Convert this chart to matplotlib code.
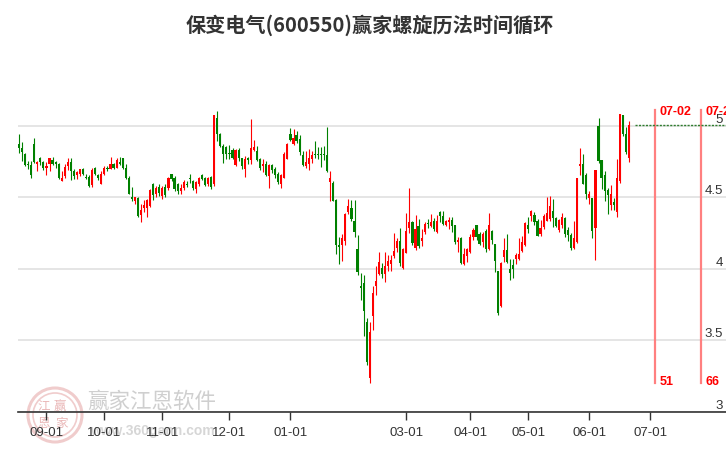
import matplotlib
matplotlib.use("Agg")
import matplotlib.pyplot as plt
from matplotlib.patches import Ellipse
import matplotlib.transforms as mtransforms

plt.rcParams['font.family'] = ['Liberation Sans', 'Noto Sans CJK SC', 'DejaVu Sans']

# ---------------- data (daily candles, trading-day order) ----------------
opens = [4.873, 4.845, 4.803, 4.734, 4.725, 4.873, 4.734, 4.771, 4.748, 4.706,
         4.734, 4.757, 4.748, 4.734, 4.614, 4.648, 4.718, 4.748, 4.683, 4.655,
         4.660, 4.700, 4.641, 4.641, 4.586, 4.706, 4.655, 4.595, 4.664, 4.706,
         4.695, 4.729, 4.706, 4.748, 4.771, 4.702, 4.636, 4.502, 4.475, 4.493,
         4.378, 4.424, 4.424, 4.440, 4.590, 4.521, 4.572, 4.509, 4.572, 4.567,
         4.660, 4.637, 4.590, 4.540, 4.567, 4.595, 4.632, 4.614, 4.556, 4.595,
         4.655, 4.632, 4.590, 4.641, 4.590, 5.053, 4.938, 4.857, 4.850, 4.810,
         4.827, 4.725, 4.827, 4.771, 4.694, 4.775, 4.757, 4.833, 4.826, 4.770,
         4.717, 4.733, 4.648, 4.724, 4.694, 4.660, 4.595, 4.636, 4.770, 4.942,
         4.872, 4.932, 4.909, 4.798, 4.717, 4.733, 4.764, 4.800, 4.800, 4.800,
         4.800, 4.794, 4.608, 4.601, 4.479, 4.169, 4.169, 4.192, 4.397, 4.427,
         4.334, 4.140, 3.883, 3.902, 3.626, 3.234, 3.668, 3.878, 3.967, 4.007,
         3.967, 4.023, 4.037, 4.089, 4.147, 4.194, 4.007, 4.112, 4.287, 4.327,
         4.147, 4.299, 4.194, 4.257, 4.318, 4.299, 4.334, 4.257, 4.397, 4.371,
         4.306, 4.329, 4.343, 4.306, 4.184, 4.212, 4.031, 4.089, 4.118, 4.219,
         4.306, 4.242, 4.184, 4.266, 4.137, 4.266, 4.172, 3.984, 3.738, 4.085,
         4.132, 4.000, 4.024, 4.071, 4.066, 4.125, 4.165, 4.306, 4.371, 4.376,
         4.336, 4.243, 4.290, 4.336, 4.347, 4.405, 4.354, 4.271, 4.308, 4.354,
         4.271, 4.239, 4.146, 4.185, 4.720, 4.729, 4.655, 4.493, 4.493, 4.285,
         5.000, 4.757, 4.655, 4.549, 4.447, 4.463, 4.394, 4.614, 5.072, 4.938,
         4.776]
highs = [4.938, 4.887, 4.810, 4.752, 4.752, 4.914, 4.752, 4.780, 4.752, 4.748,
         4.776, 4.780, 4.750, 4.741, 4.683, 4.729, 4.771, 4.771, 4.695, 4.683,
         4.700, 4.706, 4.664, 4.655, 4.702, 4.711, 4.664, 4.683, 4.718, 4.718,
         4.780, 4.741, 4.776, 4.780, 4.776, 4.729, 4.648, 4.572, 4.502, 4.502,
         4.452, 4.479, 4.486, 4.556, 4.600, 4.580, 4.590, 4.580, 4.590, 4.640,
         4.665, 4.645, 4.600, 4.590, 4.620, 4.610, 4.660, 4.620, 4.610, 4.640,
         4.660, 4.640, 4.640, 4.645, 5.077, 5.104, 4.950, 4.870, 4.857, 4.864,
         4.845, 4.840, 4.845, 4.776, 4.787, 4.780, 5.048, 4.896, 4.856, 4.776,
         4.770, 4.752, 4.733, 4.733, 4.710, 4.678, 4.664, 4.817, 4.879, 4.983,
         4.979, 4.965, 4.932, 4.826, 4.821, 4.840, 4.826, 4.891, 4.850, 4.850,
         4.860, 4.988, 4.683, 4.613, 4.486, 4.220, 4.243, 4.393, 4.490, 4.481,
         4.481, 4.233, 3.972, 3.960, 3.656, 3.626, 3.883, 4.023, 4.117, 4.042,
         4.117, 4.093, 4.093, 4.248, 4.217, 4.287, 4.147, 4.388, 4.561, 4.334,
         4.374, 4.350, 4.280, 4.327, 4.350, 4.381, 4.357, 4.374, 4.404, 4.406,
         4.343, 4.360, 4.360, 4.306, 4.219, 4.219, 4.148, 4.148, 4.242, 4.282,
         4.306, 4.254, 4.259, 4.277, 4.390, 4.273, 4.172, 3.984, 4.047, 4.212,
         4.242, 4.071, 4.071, 4.113, 4.212, 4.230, 4.324, 4.360, 4.414, 4.400,
         4.347, 4.340, 4.382, 4.498, 4.509, 4.486, 4.363, 4.347, 4.387, 4.363,
         4.290, 4.248, 4.336, 4.632, 4.845, 4.799, 4.671, 4.540, 4.493, 4.688,
         5.053, 4.757, 4.683, 4.567, 4.586, 4.493, 4.764, 5.081, 5.076, 4.989,
         5.035]
lows = [4.810, 4.752, 4.718, 4.695, 4.632, 4.741, 4.683, 4.725, 4.688, 4.655,
        4.683, 4.725, 4.706, 4.625, 4.612, 4.632, 4.688, 4.618, 4.625, 4.625,
        4.648, 4.655, 4.625, 4.572, 4.572, 4.655, 4.618, 4.590, 4.655, 4.683,
        4.695, 4.695, 4.702, 4.725, 4.695, 4.625, 4.521, 4.475, 4.456, 4.364,
        4.324, 4.400, 4.359, 4.433, 4.479, 4.500, 4.510, 4.490, 4.500, 4.550,
        4.610, 4.540, 4.520, 4.525, 4.550, 4.570, 4.600, 4.550, 4.530, 4.580,
        4.620, 4.575, 4.580, 4.560, 4.580, 4.891, 4.850, 4.741, 4.764, 4.764,
        4.764, 4.720, 4.752, 4.695, 4.641, 4.730, 4.730, 4.820, 4.752, 4.688,
        4.678, 4.648, 4.567, 4.671, 4.636, 4.595, 4.567, 4.632, 4.764, 4.891,
        4.866, 4.880, 4.798, 4.717, 4.701, 4.687, 4.740, 4.775, 4.764, 4.710,
        4.760, 4.678, 4.474, 4.470, 4.100, 4.034, 4.057, 4.169, 4.381, 4.334,
        4.224, 3.960, 3.780, 3.533, 3.330, 3.205, 3.570, 3.820, 3.960, 3.937,
        3.906, 3.983, 3.983, 4.077, 4.117, 4.023, 4.000, 4.107, 4.252, 4.163,
        4.131, 4.147, 4.160, 4.240, 4.287, 4.294, 4.264, 4.248, 4.327, 4.306,
        4.296, 4.277, 4.254, 4.172, 4.118, 4.031, 4.024, 4.047, 4.113, 4.202,
        4.202, 4.165, 4.155, 4.118, 4.132, 4.172, 3.977, 3.679, 3.733, 4.047,
        4.043, 3.921, 3.937, 4.031, 4.061, 4.118, 4.160, 4.249, 4.336, 4.306,
        4.226, 4.232, 4.278, 4.331, 4.336, 4.294, 4.290, 4.255, 4.285, 4.225,
        4.192, 4.128, 4.137, 4.178, 4.655, 4.590, 4.486, 4.456, 4.215, 4.058,
        4.741, 4.556, 4.475, 4.382, 4.410, 4.410, 4.359, 4.602, 4.926, 4.799,
        4.748]
closes = [4.845, 4.815, 4.725, 4.725, 4.655, 4.748, 4.748, 4.748, 4.706, 4.720,
          4.776, 4.734, 4.734, 4.632, 4.632, 4.711, 4.748, 4.683, 4.648, 4.678,
          4.700, 4.660, 4.632, 4.579, 4.688, 4.664, 4.632, 4.664, 4.706, 4.695,
          4.729, 4.706, 4.757, 4.734, 4.702, 4.636, 4.525, 4.490, 4.498, 4.371,
          4.410, 4.447, 4.479, 4.549, 4.516, 4.567, 4.526, 4.567, 4.516, 4.632,
          4.625, 4.556, 4.540, 4.567, 4.609, 4.586, 4.628, 4.563, 4.609, 4.637,
          4.625, 4.586, 4.637, 4.572, 5.077, 4.938, 4.857, 4.803, 4.803, 4.803,
          4.776, 4.827, 4.776, 4.718, 4.770, 4.757, 4.845, 4.849, 4.763, 4.706,
          4.733, 4.655, 4.724, 4.687, 4.655, 4.608, 4.655, 4.800, 4.872, 4.902,
          4.914, 4.891, 4.817, 4.724, 4.747, 4.775, 4.798, 4.796, 4.796, 4.796,
          4.796, 4.683, 4.632, 4.474, 4.169, 4.150, 4.215, 4.386, 4.439, 4.350,
          4.257, 3.976, 3.867, 3.703, 3.346, 3.556, 3.832, 3.913, 4.047, 3.967,
          4.023, 4.051, 4.060, 4.124, 4.194, 4.042, 4.140, 4.264, 4.327, 4.182,
          4.280, 4.159, 4.217, 4.310, 4.311, 4.327, 4.280, 4.334, 4.369, 4.313,
          4.336, 4.343, 4.300, 4.184, 4.202, 4.043, 4.101, 4.141, 4.219, 4.273,
          4.219, 4.172, 4.242, 4.137, 4.306, 4.202, 4.054, 3.690, 4.043, 4.132,
          4.047, 3.968, 4.000, 4.094, 4.101, 4.188, 4.320, 4.277, 4.406, 4.329,
          4.230, 4.285, 4.370, 4.387, 4.440, 4.354, 4.301, 4.340, 4.359, 4.243,
          4.239, 4.146, 4.215, 4.632, 4.729, 4.595, 4.521, 4.525, 4.262, 4.688,
          4.752, 4.632, 4.540, 4.516, 4.525, 4.447, 4.632, 5.081, 4.938, 4.817,
          5.002]

month_labels = ["09-01", "10-01", "11-01", "12-01", "01-01",
                "03-01", "04-01", "05-01", "06-01", "07-01"]
month_idx = [9, 28, 47, 69, 89, 127, 148, 167, 187, 207]

cycle_dates = ["07-02", "07-23"]
cycle_idx = [208.5, 223.5]
cycle_counts = ["51", "66"]

price_ticks = [3, 3.5, 4, 4.5, 5]
price_labels = ["3", "3.5", "4", "4.5", "5"]

title = "保变电气(600550)赢家螺旋历法时间循环"

# ---------------- figure ----------------
W, H = 726, 450
fig = plt.figure(figsize=(W / 100, H / 100), dpi=100)
fig.patch.set_facecolor("white")

ax_left, ax_bottom, ax_right, ax_top = 17.5, 38, 726, 97  # pixel layout
ax = fig.add_axes([ax_left / W, ax_bottom / H, (ax_right - ax_left) / W,
                   (H - ax_bottom - ax_top) / H])
ax.set_zorder(1)
ax.patch.set_alpha(0)

step = 3.05  # px per trading day
xmin = -1.5 / step
xmax = xmin + (ax_right - ax_left) / step
ax.set_xlim(xmin, xmax)
ax.set_ylim(3.0, 3.0 + (H - ax_bottom - ax_top) / 143.2)

RED = "#ff0000"
GREEN = "#008000"
xs = list(range(len(closes)))
cols = [RED if c > o else GREEN for o, c in zip(opens, closes)]
ax.vlines(xs, lows, highs, colors=cols, linewidth=0.8, zorder=3)
bottoms = [min(o, c) for o, c in zip(opens, closes)]
heights = [max(abs(c - o), 0.006) for o, c in zip(opens, closes)]
ax.bar(xs, heights, bottom=bottoms, width=0.72, color=cols, linewidth=0, zorder=4)

# grid & y labels (inside, right)
ax.set_yticks(price_ticks)
ax.yaxis.grid(True, color="#e3e3e3", linewidth=1.3, zorder=0)
ax.tick_params(axis="y", length=0, labelleft=False)
ytrans = mtransforms.blended_transform_factory(ax.transAxes, ax.transData)
for v, lab in zip(price_ticks, price_labels):
    ax.text(1 - 3 / (ax_right - ax_left), v, lab, transform=ytrans, ha="right",
            va="bottom", fontsize=9.5, color="#333333", zorder=5)

# x axis
for s in ["top", "right", "left"]:
    ax.spines[s].set_visible(False)
ax.spines["bottom"].set_color("#333333")
ax.spines["bottom"].set_linewidth(1.2)
ax.set_xticks(month_idx)
ax.set_xticklabels(month_labels)
ax.tick_params(axis="x", length=6, width=1, color="#333333", labelsize=9.5,
               labelcolor="#333333", pad=5)

# cycle lines
top_frac = (H - ax_bottom - 110) / (H - ax_bottom - ax_top)
bot_frac = (H - ax_bottom - 383) / (H - ax_bottom - ax_top)
for xi, d, n in zip(cycle_idx, cycle_dates, cycle_counts):
    ax.axvline(xi, ymin=bot_frac, ymax=top_frac, color="#ff8080", linewidth=1.6, zorder=2)
    ax.annotate(d, xy=(xi, top_frac - 0.005), xycoords=("data", "axes fraction"),
                xytext=(3.5, 0), textcoords="offset points", ha="left", va="center",
                color="#ff0000", fontweight="bold", fontsize=9, annotation_clip=False)
    ax.annotate(n, xy=(xi, bot_frac + 0.003), xycoords=("data", "axes fraction"),
                xytext=(3.5, 0), textcoords="offset points", ha="left", va="center",
                color="#ff0000", fontweight="bold", fontsize=9, annotation_clip=False)

# last close reference line
ax.hlines(closes[-1], len(closes) + 1, xmax, colors="#2e7d2e", linestyles=(0, (1.5, 1)),
          linewidth=1.0, zorder=2)

# title
fig.text(370 / W, 1 - 25 / H, title, ha="center", va="center", fontsize=14.5,
         fontweight="bold", color="#333333",
         family=["Noto Sans CJK SC", "DejaVu Sans"])

# watermark (drawn beneath the axes)
cx, cy = 55 / W, 1 - 415 / H
for r, lw in [(27, 2.2), (22, 1.2)]:
    fig.patches.append(Ellipse((cx, cy), 2 * r / W, 2 * r / H, transform=fig.transFigure,
                               fill=False, edgecolor="#f0cccc", linewidth=lw, zorder=0))
for ch, px, py in [("江", 44, 406), ("赢", 60, 406), ("恩", 44, 423), ("家", 61, 424)]:
    fig.text(px / W, 1 - py / H, ch, ha="center", va="center", fontsize=9,
             color="#eab8b8", family=["Noto Sans CJK SC"], zorder=0)
fig.text(152 / W, 1 - 402 / H, "赢家江恩软件", ha="center", va="center", fontsize=15.5,
         color="#cfcfcf", family=["Noto Sans CJK SC"], zorder=0)
fig.text(152 / W, 1 - 431 / H, "www.360gann.com", ha="center", va="center", fontsize=10,
         fontweight="bold", color="#d6d6d6", zorder=0)

fig.savefig("out.png", dpi=100)
